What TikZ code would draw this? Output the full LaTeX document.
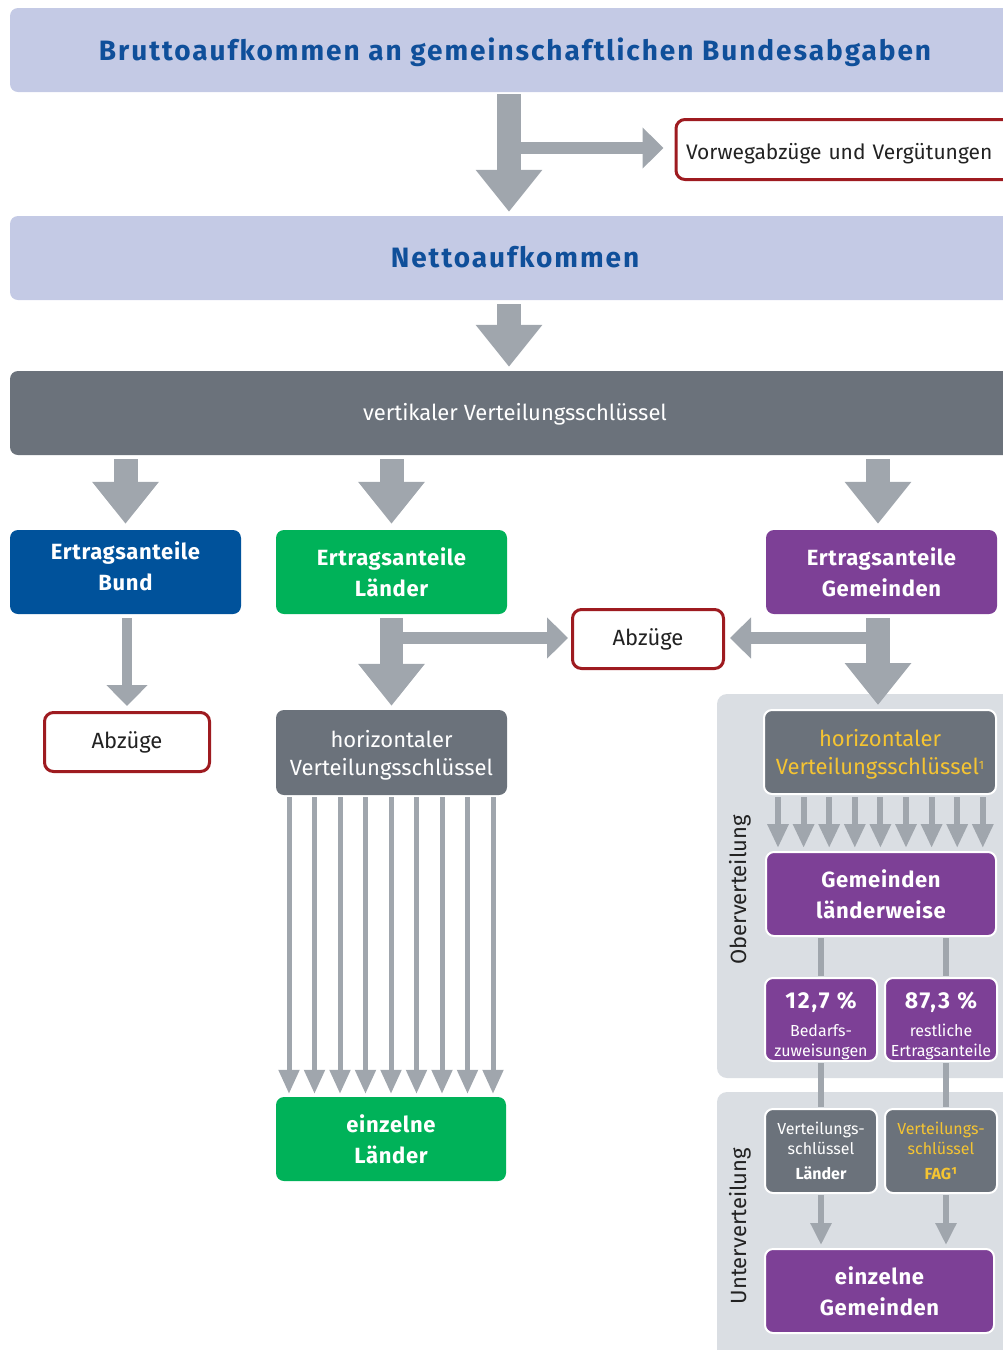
\documentclass[tikz,border=0pt]{standalone}
\usepackage{fontspec}
\setmainfont{Fira Sans}
\usetikzlibrary{arrows.meta}
\definecolor{lav}{HTML}{C4CAE5}
\definecolor{titleblue}{HTML}{0F4F9A}
\definecolor{agrey}{HTML}{A0A6AD}
\definecolor{dgrey}{HTML}{6B727B}
\definecolor{bundblue}{HTML}{00529B}
\definecolor{lgreen}{HTML}{00B259}
\definecolor{gpurple}{HTML}{7D4096}
\definecolor{redb}{HTML}{9E1B20}
\definecolor{panelc}{HTML}{DADEE3}
\definecolor{yell}{HTML}{F5C432}
\definecolor{txt}{HTML}{222222}
\begin{document}
\begin{tikzpicture}[x=1pt,y=-1pt,
  box/.style={rounded corners=8pt, inner sep=0pt, align=center, text=white},
  wbox/.style={box, draw=white, line width=2pt},
  redbox/.style={draw=redb, line width=3pt, fill=white, rounded corners=9pt, text=txt, inner sep=0pt, align=center, font=\fontsize{22}{26}\selectfont},
  bigarrow/.style={draw=agrey, line width=24pt, -{Triangle[width=64pt,length=42pt]}},
  midarrow/.style={draw=agrey, line width=12pt, -{Triangle[width=40pt,length=21pt]}},
  bundarrow/.style={draw=agrey, line width=10pt, -{Triangle[width=40pt,length=21pt]}},
  thinarrow/.style={draw=agrey, line width=5pt, -{Triangle[width=20pt,length=24pt]}},
  conn/.style={draw=agrey, line width=6pt},
  connarrow/.style={draw=agrey, line width=6pt, -{Triangle[width=20pt,length=22pt]}},
  bigbold/.style={font=\bfseries\fontsize{28}{32}\selectfont\addfontfeatures{LetterSpace=7}},
  midbold/.style={font=\bfseries\fontsize{22}{31}\selectfont\addfontfeatures{LetterSpace=3}},
  midreg/.style={font=\fontsize{22}{28}\selectfont},
  smallt/.style={font=\fontsize{16}{20}\selectfont},
  sidelabel/.style={rotate=90, text=txt, font=\fontsize{22}{26}\selectfont}
]
\useasboundingbox (0,0) rectangle (1003,1350);
\clip (0,0) rectangle (1003,1350);

% panels
\fill[panelc, rounded corners=10pt] (717,694) rectangle (1030,1078);
\fill[panelc, rounded corners=10pt] (717,1092) rectangle (1030,1370);

% top boxes
\node[box, fill=lav, text=titleblue, minimum width=1010pt, minimum height=84pt, bigbold, text depth=2pt] (brutto) at (515,50) {Bruttoaufkommen an gemeinschaftlichen Bundesabgaben};
\node[redbox, anchor=west, minimum height=60pt, text width=330pt, inner xsep=10pt, align=left, font=\fontsize{21}{26}\selectfont, text depth=2pt] (vorweg) at (674.5,149.5) {\rule{0pt}{21pt}Vorwegabzüge und Vergütungen};
\node[box, fill=lav, text=titleblue, minimum width=1010pt, minimum height=84pt, bigbold, text depth=3pt] (netto) at (515,258) {Nettoaufkommen};
\node[box, fill=dgrey, minimum width=1010pt, minimum height=84pt, midreg, text depth=2pt] (vert) at (515,413) {vertikaler Verteilungsschlüssel};

% second row
\node[box, fill=bundblue, minimum width=231pt, minimum height=84pt, midbold, text depth=12pt] (bund) at (125.5,572) {Ertragsanteile\\Bund};
\node[box, fill=lgreen, minimum width=231pt, minimum height=84pt, midbold] (laender) at (391.5,572) {Ertragsanteile\\Länder};
\node[box, fill=gpurple, minimum width=231pt, minimum height=84pt, midbold] (gem) at (881.5,572) {Ertragsanteile\\Gemeinden};

\node[redbox, minimum width=165pt, minimum height=59pt, text depth=3pt] (abz1) at (127,742) {Abzüge};
\node[redbox, minimum width=151pt, minimum height=59pt, text depth=3pt] (abz2) at (648,639) {Abzüge};

% Länder column
\node[box, fill=dgrey, minimum width=231pt, minimum height=85pt, midreg, text depth=0pt] (hl) at (391.5,752.5) {horizontaler\\Verteilungsschlüssel};
\node[box, fill=lgreen, minimum width=230pt, minimum height=84pt, midbold] (el) at (391,1139) {einzelne\\Länder};

% Gemeinden column
\node[wbox, fill=dgrey, text=yell, minimum width=232pt, minimum height=84pt, midreg, text depth=0pt] (hg) at (880,752) {horizontaler\\Verteilungsschlüssel\raisebox{5pt}{\fontsize{12}{12}\selectfont 1}};
\node[wbox, fill=gpurple, minimum width=230pt, minimum height=84pt, midbold] (gl) at (881,894) {Gemeinden\\länderweise};
\node[wbox, fill=gpurple, minimum width=112pt, minimum height=83pt, smallt, text depth=0pt] (p1) at (821,1019.5) {{\bfseries\fontsize{23}{24}\selectfont\addfontfeatures{LetterSpace=8}\rule{0pt}{25pt}12,7 \%}\\[8pt]Bedarfs-\\zuweisungen};
\node[wbox, fill=gpurple, minimum width=112pt, minimum height=83pt, smallt, text depth=0pt] (p2) at (941,1019.5) {{\bfseries\fontsize{23}{24}\selectfont\addfontfeatures{LetterSpace=8}\rule{0pt}{25pt}87,3 \%}\\[8pt]restliche\\Ertragsanteile};
\node[wbox, fill=dgrey, minimum width=112pt, minimum height=84pt, smallt] (v1) at (821,1151) {Verteilungs-\\schlüssel\\[5pt]\textbf{Länder}};
\node[wbox, fill=dgrey, text=yell, minimum width=112pt, minimum height=84pt, smallt] (v2) at (941,1151) {Verteilungs-\\schlüssel\\[5pt]\textbf{FAG¹}};
\node[wbox, fill=gpurple, minimum width=229pt, minimum height=84pt, midbold] (eg) at (879.5,1291) {einzelne\\Gemeinden};

\node[sidelabel] (ober) at (740,890) {Oberverteilung};
\node[sidelabel] (unter) at (740,1226) {Unterverteilung};

% arrows top
\draw[bigarrow, shorten <=2pt, shorten >=4pt] ([xshift=-6pt]brutto.south) -- ([xshift=-6pt]netto.north);
\coordinate (br1) at (509,148);
\draw[midarrow, shorten >=11pt] (br1) -- (vorweg.west |- br1);
\draw[bigarrow, shorten <=4pt, shorten >=4pt] ([xshift=-6pt]netto.south) -- ([xshift=-6pt]vert.north);

\draw[bigarrow, shorten <=4pt, shorten >=6pt] (vert.south -| bund.north) -- (bund.north);
\draw[bigarrow, shorten <=4pt, shorten >=6pt] (vert.south -| laender.north) -- (laender.north);
\draw[bigarrow, shorten <=4pt, shorten >=6pt] ([xshift=-3.5pt]vert.south -| gem.north) -- ([xshift=-3.5pt]gem.north);

\draw[bundarrow, shorten <=4pt, shorten >=5pt] (bund.south -| abz1.north) -- (abz1.north);
\draw[bigarrow, line width=23pt, shorten <=4pt, shorten >=4pt] (laender.south) -- (hl.north);
\coordinate (br2) at (391,638);
\draw[midarrow, shorten >=3pt] (br2) -- (abz2.west |- br2);
\coordinate (gtop) at (878,705);
\draw[bigarrow, shorten <=4pt] ([xshift=-3.5pt]gem.south) -- (gtop);
\coordinate (br3) at (878,638);
\draw[midarrow, shorten >=5pt] (br3) -- (abz2.east |- br3);

% 9 arrows Länder
\foreach \i in {0,...,8}{
  \draw[thinarrow, shorten <=2pt, shorten >=3pt] ([xshift={-102.5pt+\i*25.5pt}]hl.south) -- ([xshift={-102pt+\i*25.5pt}]el.north);
}
% 9 arrows Gemeinden
\foreach \i in {0,...,8}{
  \draw[thinarrow, line width=6pt, shorten <=2pt, shorten >=3pt] ([xshift={-102pt+\i*25.6pt}]hg.south) -- ([xshift={-103pt+\i*25.6pt}]gl.north);
}

% connectors in panels
\draw[conn, shorten <=1pt, shorten >=1pt] (gl.south -| p1.north) -- (p1.north);
\draw[conn, shorten <=1pt, shorten >=1pt] ([xshift=5pt]gl.south -| p2.north) -- ([xshift=5pt]p2.north);
\draw[conn, shorten <=1pt, shorten >=1pt] (p1.south) -- (v1.north);
\draw[conn, shorten <=1pt, shorten >=1pt] ([xshift=5pt]p2.south) -- ([xshift=5pt]v2.north);
\draw[connarrow, shorten <=1pt, shorten >=3pt] (v1.south) -- (v1.south |- eg.north);
\draw[connarrow, shorten <=1pt, shorten >=3pt] ([xshift=5pt]v2.south) -- ([xshift=5pt]v2.south |- eg.north);
\end{tikzpicture}
\end{document}
